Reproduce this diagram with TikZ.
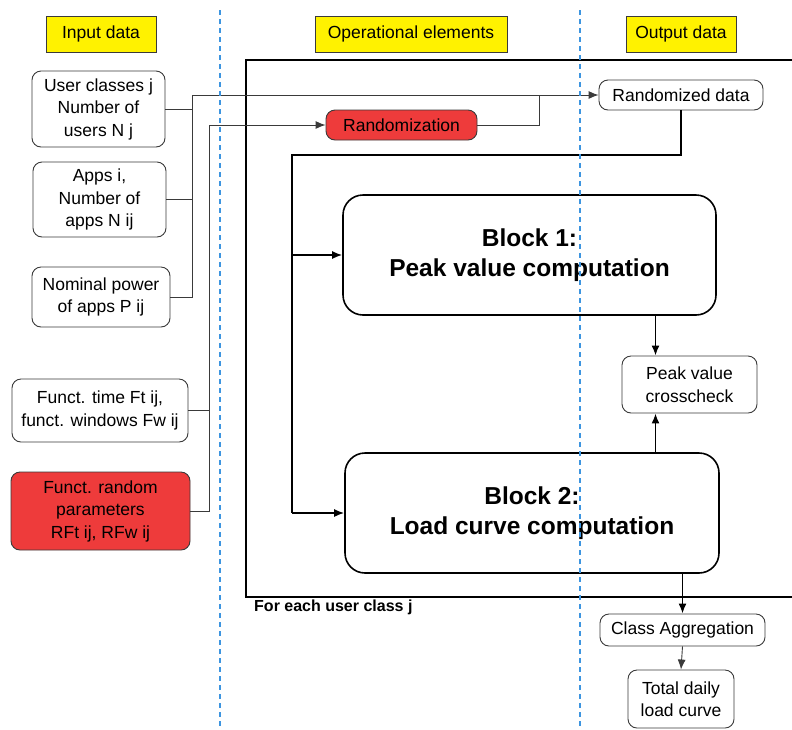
\documentclass[tikz,border=0pt]{standalone}
\usepackage{fontspec}
\setmainfont{Liberation Sans}
\usetikzlibrary{arrows.meta}
\definecolor{boxred}{HTML}{EE3B3B}
\definecolor{laneblue}{HTML}{3D95E0}
\definecolor{edgegray}{HTML}{3A3A3A}

\begin{document}
\begin{tikzpicture}[x=1pt, y=-1pt,
    lbl/.style={draw=edgegray, fill=yellow, minimum height=36pt, inner sep=0pt, font=\fontsize{17.5}{21}\selectfont},
    data/.style={draw=edgegray, line width=0.9pt, rounded corners=9pt, align=center, fill=white, inner sep=0pt, font=\fontsize{17.5}{22.5}\selectfont},
    hot/.style={data, fill=boxred},
    block/.style={draw, line width=1.6pt, rounded corners=20pt, align=center, inner sep=0pt, minimum height=120pt, font=\bfseries\fontsize{24.5}{30}\selectfont},
    wire/.style={draw=edgegray, line width=0.9pt},
    bus/.style={draw, line width=1.6pt},
    tip/.style={-{Latex[length=10pt,width=8pt]}},
    lane/.style={draw=laneblue, line width=1.8pt, dash pattern=on 5pt off 4pt}]
    \useasboundingbox (0,0) rectangle (792,729);

    \node (inlbl) [lbl, minimum width=110pt] at (101,34) {Input data};
    \node (oplbl) [lbl, minimum width=192pt] at (411,34) {Operational elements};
    \node (outlbl) [lbl, minimum width=110pt] at (681,34) {Output data};

    \draw[bus] (792,60) -- (246,60) -- (246,597) -- (792,597);
    \node (foreach) [anchor=north west, inner sep=0pt, font=\bfseries\fontsize{16}{18}\selectfont] at (254,600) {For each user class j};

    \node (users) [data, minimum width=133pt, minimum height=76pt] at (98.5,109) {User classes j\\Number of\\users N j};
    \node (apps) [data, minimum width=133pt, minimum height=75pt] at (99.5,199.5) {Apps i,\\Number of\\apps N ij};
    \node (power) [data, minimum width=138pt, minimum height=60pt] at (101,297) {Nominal power\\of apps P ij};
    \node (ftime) [data, minimum width=176pt, minimum height=63pt] at (100,410.5) {Funct. time Ft ij,\\funct. windows Fw ij};
    \node (frand) [hot, minimum width=179pt, minimum height=78pt] at (100.5,511) {Funct. random\\parameters\\RFt ij, RFw ij};

    \node (rand) [hot, minimum width=151pt, minimum height=30pt] at (401.5,125) {Randomization};
    \node (randdata) [data, minimum width=164pt, minimum height=30pt] at (681,95) {Randomized data};

    \node (block1) [block, minimum width=373pt] at (529.5,255) {Block 1:\\Peak value computation};
    \node (block2) [block, minimum width=374pt] at (532,513) {Block 2:\\Load curve computation};
    \node (check) [data, minimum width=135pt, minimum height=57pt] at (689.5,384.5) {Peak value\\crosscheck};
    \node (classagg) [data, minimum width=165pt, minimum height=32pt] at (682.5,630) {Class Aggregation};
    \node (total) [data, minimum width=106pt, minimum height=58pt] at (681,699) {Total daily\\load curve};

    \coordinate (busA) at (192,95);
    \coordinate (busB) at (209,125);
    \coordinate (join) at (539,95);
    \coordinate (feedtop) at (292,155);
    \coordinate (feedbot) at (292,513);
    \coordinate (pk) at (655.5,0);

    \path[wire] (users.east) edge (users.east -| busA)
                (apps.east) edge (apps.east -| busA)
                (ftime.east) edge (ftime.east -| busB);
    \draw[wire] (rand.east) -| (join);
    \draw[wire, tip] (power.east) -| (busA) -- (randdata.west);
    \draw[wire, tip] (frand.east) -| (busB) -- (rand.west);

    \draw[bus] (randdata.south) |- (feedtop) -- (feedbot);
    \draw[bus, tip] (feedtop |- block1.west) -- (block1.west);
    \draw[bus, tip] (feedbot) -- (block2.west);
    \draw[bus, tip] (block1.south -| pk) -- (check.north -| pk);
    \draw[bus, tip] (block2.north -| pk) -- (check.south -| pk);
    \draw[bus, tip] (block2.south -| classagg) -- (classagg.north);
    \draw[wire, tip] (classagg.south) -- (total.north);

    \draw[lane] (220,10) -- (220,729);
    \draw[lane] (580,10) -- (580,729);
\end{tikzpicture}
\end{document}
